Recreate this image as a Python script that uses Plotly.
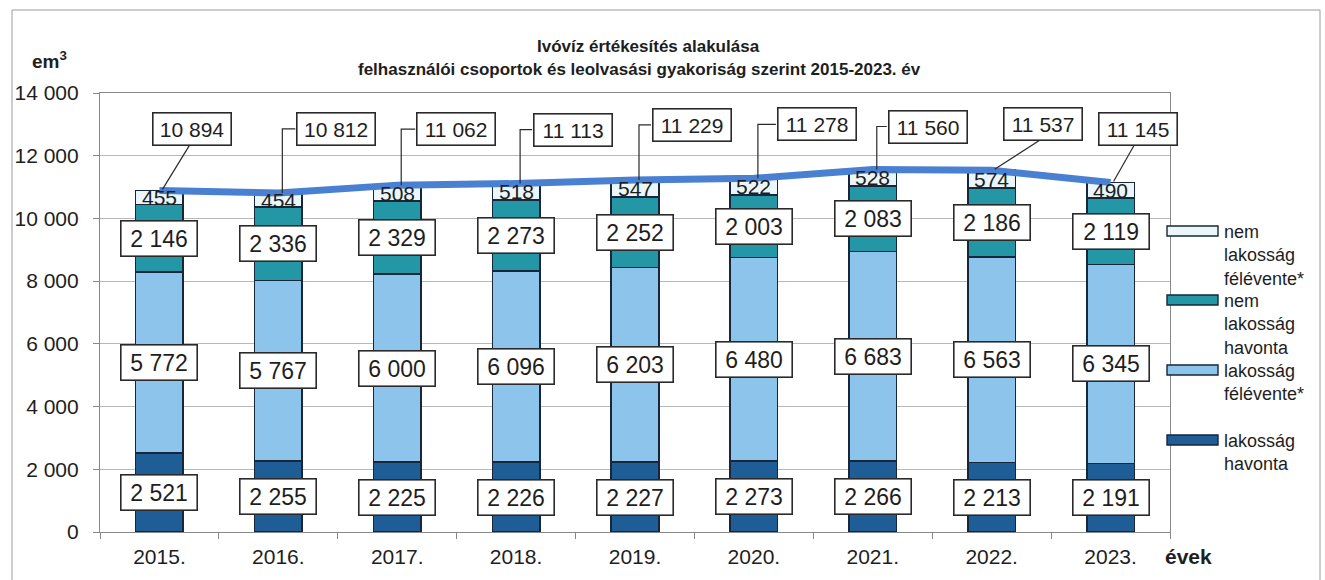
import plotly.graph_objects as go

# ---------------- data ----------------
years = ["2015.", "2016.", "2017.", "2018.", "2019.", "2020.", "2021.", "2022.", "2023."]
lakossag_havonta = [2521, 2255, 2225, 2226, 2227, 2273, 2266, 2213, 2191]
lakossag_felevente = [5772, 5767, 6000, 6096, 6203, 6480, 6683, 6563, 6345]
nem_lakossag_havonta = [2146, 2336, 2329, 2273, 2252, 2003, 2083, 2186, 2119]
nem_lakossag_felevente = [455, 454, 508, 518, 547, 522, 528, 574, 490]
osszesen = [10894, 10812, 11062, 11113, 11229, 11278, 11560, 11537, 11145]
y_ticks = [0, 2000, 4000, 6000, 8000, 10000, 12000, 14000]

# ---------------- styling ----------------
FONT = "Liberation Sans, Arial, sans-serif"
TXT = "#1e1e1e"
C_LH = "#1f5d96"
C_LF = "#8dc4ec"
C_NH = "#2497a7"
C_NF = "#eaf6fa"
C_LINE = "#4a80d2"
OUTLINE = "#17263a"

# total label box offsets (px) relative to point, and leader style
tot_dx = [33, 58, 59, 57, 57, 63, 55, 51, 27]
tot_dy = [61, 64, 56, 54, 55, 54, 43, 46, 54]
tot_style = ["diag", "elbow", "elbow", "elbow", "elbow", "elbow", "elbow", "diag", "diag"]

# plot-area geometry (for paper conversions)
L, R, T, B = 100, 1170, 93, 532
W_, H_ = 1325, 580


def px_x(px):
    return (px - L) / (R - L)


def px_y(py):
    return (B - py) / (B - T)


xs = list(range(len(years)))
fig = go.Figure()

series = [
    ("lakosság havonta", lakossag_havonta, C_LH),
    ("lakosság félévente*", lakossag_felevente, C_LF),
    ("nem lakosság havonta", nem_lakossag_havonta, C_NH),
    ("nem lakosság félévente*", nem_lakossag_felevente, C_NF),
]
for name, vals, col in series:
    fig.add_trace(go.Bar(
        x=xs, y=vals, name=name, width=0.4,
        marker=dict(color=col, line=dict(color=OUTLINE, width=1.6)),
        showlegend=False, hoverinfo="y",
    ))

fig.add_trace(go.Scatter(
    x=xs, y=osszesen, mode="lines", line=dict(color=C_LINE, width=7),
    showlegend=False, hoverinfo="y",
))

annotations = []
shapes = []


def fmt(v):
    return f"{v:,}".replace(",", " ")


# segment labels
for i in xs:
    base = 0
    for k, (name, vals, col) in enumerate(series):
        v = vals[i]
        mid = base + v / 2
        if k < 3:
            annotations.append(dict(
                x=i, y=mid, xref="x", yref="y", text=fmt(v), showarrow=False,
                font=dict(family=FONT, size=23, color=TXT),
                bgcolor="white", bordercolor="#2a2a2a", borderwidth=1.6,
                borderpad=3, width=69, height=28,
            ))
        else:
            annotations.append(dict(
                x=i, y=mid, xref="x", yref="y", text=fmt(v), showarrow=False,
                font=dict(family=FONT, size=21, color=TXT),
            ))
        base += v

# total labels with leaders
for i in xs:
    dx, dy = tot_dx[i], tot_dy[i]
    annotations.append(dict(
        x=i, y=osszesen[i], xref="x", yref="y", xshift=dx, yshift=dy,
        text=fmt(osszesen[i]), showarrow=False,
        font=dict(family=FONT, size=21, color=TXT),
        bgcolor="white", bordercolor="#2a2a2a", borderwidth=1.6,
        borderpad=3, width=71, height=25,
    ))
    if tot_style[i] == "elbow":
        path = f"M 4,0 L 4,{dy} L {dx - 41},{dy}"
    else:
        path = f"M 3,1 L {dx - 3},{dy - 16}"
    shapes.append(dict(
        type="path", xref="x", yref="y", xsizemode="pixel", ysizemode="pixel",
        xanchor=i, yanchor=osszesen[i], path=path,
        line=dict(color="#2a2a2a", width=1.2), layer="above",
    ))

# title
annotations.append(dict(
    xref="paper", yref="paper", x=px_x(648), y=px_y(46), showarrow=False,
    text="<b>Ivóvíz értékesítés alakulása</b>",
    font=dict(family=FONT, size=17, color=TXT), xanchor="center", yanchor="middle",
))
annotations.append(dict(
    xref="paper", yref="paper", x=px_x(640), y=px_y(70), showarrow=False,
    text="<b>felhasználói csoportok és leolvasási gyakoriság szerint 2015-2023. év</b>",
    font=dict(family=FONT, size=17, color=TXT), xanchor="center", yanchor="middle",
))
annotations.append(dict(
    xref="paper", yref="paper", x=px_x(30), y=px_y(60), showarrow=False,
    text="<b>em<sup>3</sup></b>",
    font=dict(family=FONT, size=19, color=TXT), xanchor="left", yanchor="middle",
))
annotations.append(dict(
    xref="paper", yref="paper", x=px_x(1163), y=px_y(556), showarrow=False,
    text="<b>évek</b>",
    font=dict(family=FONT, size=21, color=TXT), xanchor="left", yanchor="middle",
))

# manual legend
legend_items = [
    ("nem<br>lakosság<br>félévente*", C_NF, 231),
    ("nem<br>lakosság<br>havonta", C_NH, 300),
    ("lakosság<br>félévente*", C_LF, 370),
    ("lakosság<br>havonta", C_LH, 440),
]
for text, col, yc in legend_items:
    shapes.append(dict(
        type="rect", xref="paper", yref="paper",
        x0=px_x(1167), x1=px_x(1218), y0=px_y(yc - 5), y1=px_y(yc + 5),
        fillcolor=col, line=dict(color=OUTLINE, width=1.4), layer="above",
    ))
    annotations.append(dict(
        xref="paper", yref="paper", x=px_x(1222), y=px_y(yc - 11), showarrow=False,
        text=text, align="left", xanchor="left", yanchor="top",
        font=dict(family=FONT, size=18, color=TXT),
    ))

# outer frame
shapes.append(dict(
    type="rect", xref="paper", yref="paper",
    x0=px_x(12), x1=px_x(1320), y0=px_y(590), y1=px_y(10),
    line=dict(color="#9a9a9a", width=1), fillcolor="rgba(0,0,0,0)", layer="below",
))

fig.update_layout(
    width=W_, height=H_,
    margin=dict(l=L, r=W_ - R, t=T, b=H_ - B),
    barmode="stack",
    plot_bgcolor="white", paper_bgcolor="white",
    separators=", ",
    font=dict(family=FONT, size=21, color=TXT),
    annotations=annotations, shapes=shapes,
    showlegend=False,
)
fig.update_xaxes(
    range=[-0.5, len(years) - 0.5], tickmode="array", tickvals=xs, ticktext=years,
    ticks="outside", ticklen=0, showgrid=False, zeroline=False,
    showline=True, linecolor="#888888", linewidth=1.2, mirror=True,
    tickfont=dict(family=FONT, size=21, color=TXT), ticklabelstandoff=6,
    minor=dict(tickmode="array", tickvals=[k - 0.5 for k in range(len(years) + 1)],
               ticks="outside", ticklen=6, tickcolor="#888888", showgrid=False),
)
fig.update_yaxes(
    range=[0, 14000], tickmode="array", tickvals=y_ticks, tickformat=",d",
    ticks="outside", ticklen=6, tickcolor="#888888",
    showgrid=True, gridcolor="#b8b8b8", gridwidth=1, zeroline=False,
    showline=True, linecolor="#888888", linewidth=1.2, mirror=True,
    tickfont=dict(family=FONT, size=21, color=TXT), ticklabelstandoff=10,
)

fig.write_html(
    "out.html",
    config={"displayModeBar": False},
    post_script="document.body.style.margin='0';document.body.style.overflow='hidden';",
)
